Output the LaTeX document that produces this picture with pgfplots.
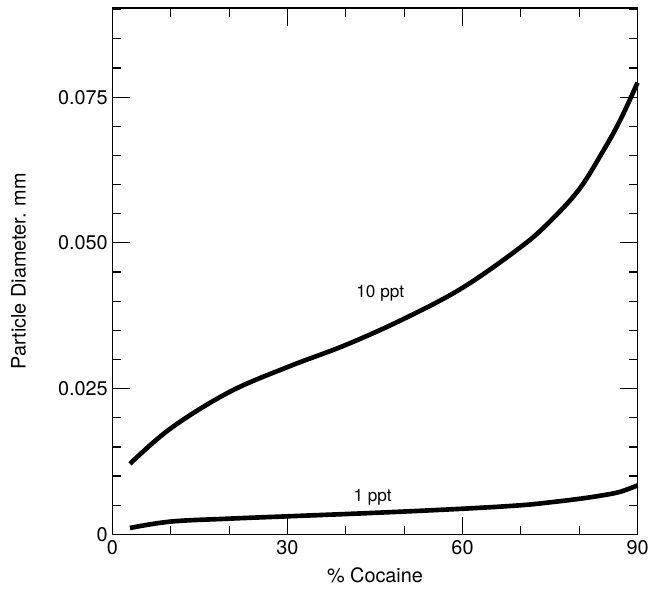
\documentclass[border=0pt]{standalone}
\usepackage{fontspec}
\setmainfont{TeX Gyre Heros}
\usepackage{pgfplots}
\pgfplotsset{compat=1.18}
\begin{document}
\begin{tikzpicture}
\begin{axis}[
    scale only axis,
    width=397pt, height=398pt,
    xmin=0, xmax=90, ymin=0, ymax=0.0903,
    xtick={0,30,60,90},
    xticklabels={0,30,60,90},
    minor xtick={10,20,40,50,70,80},
    ytick={0,0.025,0.05,0.075},
    yticklabels={0,0.025,0.050,0.075},
    scaled y ticks=false,
    minor ytick={0.005,0.01,0.015,0.02,0.03,0.035,0.04,0.045,0.055,0.06,0.065,0.07,0.08,0.085,0.09},
    tick align=inside,
    major tick length=13.5pt,
    minor tick length=6.5pt,
    every tick/.style={black, line width=0.9pt},
    axis line style={line width=1.3pt},
    tick label style={font=\fontsize{15}{17}\selectfont},
    /pgf/number format/assume math mode=true,
    xticklabel style={yshift=-1pt},
    label style={font=\fontsize{15}{17}\selectfont},
    xlabel={\% Cocaine},
    ylabel={Particle Diameter. mm},
    xlabel style={at={(axis description cs:0.5,-0.077)}, anchor=center},
    ylabel style={at={(axis description cs:-0.179,0.5)}, anchor=center},
    clip=false,
]
\addplot[black, line width=3.5pt, smooth, tension=0.6] coordinates {
    (3,0.0121) (10,0.0182) (20,0.0244) (30,0.0287) (40,0.0325)
    (50,0.0370) (60,0.0423) (70,0.0493) (75,0.0537) (80,0.0592)
    (84,0.0656) (87,0.0710) (90,0.0775)
};
\addplot[black, line width=3.5pt, smooth, tension=0.6] coordinates {
    (3,0.0011) (10,0.0022) (20,0.0027) (30,0.0031) (45,0.0037)
    (60,0.0044) (70,0.0050) (75,0.0055) (80,0.0061) (84,0.0067)
    (87,0.0073) (90,0.0084)
};
\node[font=\fontsize{13}{15}\selectfont] at (axis cs:45.9,0.0414) {10 ppt};
\node[font=\fontsize{13}{15}\selectfont] at (axis cs:44.6,0.0064) {1 ppt};
\end{axis}
\path (current axis.south west) ++(-85pt,-48pt) coordinate (bl);
\path (current axis.north east) ++(8pt,6pt) coordinate (tr);
\path (bl) rectangle (tr);
\end{tikzpicture}
\end{document}
